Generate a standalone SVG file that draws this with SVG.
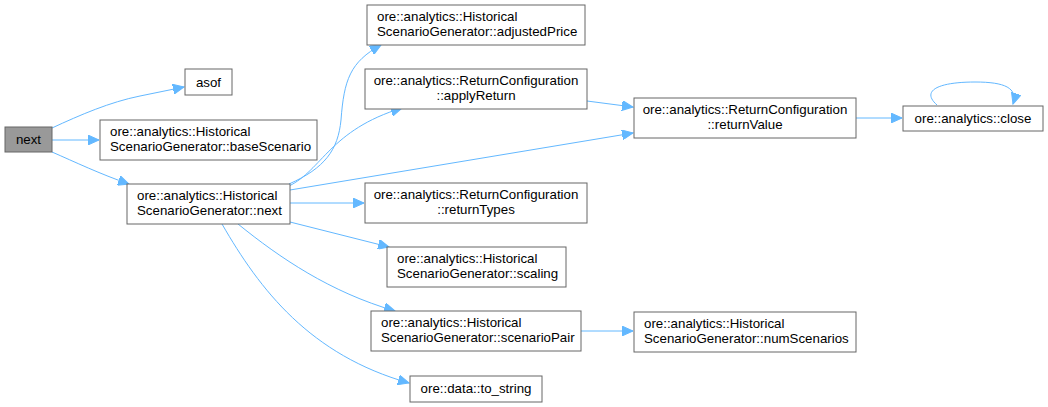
<svg xmlns="http://www.w3.org/2000/svg" width="1048" height="407" viewBox="0 0 1048 407">
<style>
.n rect{fill:#ffffff;stroke:#666666;stroke-width:1}
.n.cur rect{fill:#999999}
text{font-family:"Liberation Sans",Arial,sans-serif;font-size:13.3px;fill:#000000}
.c{text-anchor:middle}
#edges path{fill:none;stroke:#63b8ff;stroke-width:1}
</style>
<defs>
<marker id="ah" markerUnits="userSpaceOnUse" markerWidth="12" markerHeight="10" viewBox="0 0 12 10" refX="11" refY="5" orient="auto">
<path d="M0,0 L11,5 L0,10 Z" fill="#63b8ff" stroke="#63b8ff"/>
</marker>
</defs>
<rect width="1048" height="407" fill="#ffffff"/>
<g id="edges">
<path d="M52,128 C80,115 110,102 140,96 L184,87" marker-end="url(#ah)"/>
<path d="M52,140 L99,140" marker-end="url(#ah)"/>
<path d="M52,152 C75,162 100,174 129,184" marker-end="url(#ah)"/>
<path d="M289,184 C325,168 338,150 341,120 C344,80 350,62 381,45" marker-end="url(#ah)"/>
<path d="M289,186 C322,170 330,130 402,108" marker-end="url(#ah)"/>
<path d="M290,190 L633,133" marker-end="url(#ah)"/>
<path d="M587,101 L633,107" marker-end="url(#ah)"/>
<path d="M290,203 L364,203" marker-end="url(#ah)"/>
<path d="M290,222 L389,247" marker-end="url(#ah)"/>
<path d="M238,224 C280,258 330,292 395,311" marker-end="url(#ah)"/>
<path d="M222,224 C260,290 310,355 409,383" marker-end="url(#ah)"/>
<path d="M581,331 L633,331" marker-end="url(#ah)"/>
<path d="M856,118 L902,118" marker-end="url(#ah)"/>
<path d="M937,105 C920,90 940,82 975,82 C1005,82 1018,88 1013,104" marker-end="url(#ah)"/>
</g>
<g id="node-next" class="n cur"><rect x="5" y="127" width="47" height="25"/><text class="c" x="28.5" y="144">next</text></g>
<g id="node-asof" class="n"><rect x="185" y="69" width="47" height="26"/><text class="c" x="208.5" y="87">asof</text></g>
<g id="node-baseScenario" class="n"><rect x="100" y="120" width="217" height="40"/><text x="110" y="136">ore::analytics::Historical</text><text x="110" y="151">ScenarioGenerator::baseScenario</text></g>
<g id="node-hsgnext" class="n"><rect x="127" y="184" width="163" height="40"/><text x="137" y="200">ore::analytics::Historical</text><text x="137" y="215">ScenarioGenerator::next</text></g>
<g id="node-adjustedPrice" class="n"><rect x="367" y="5" width="218" height="40"/><text x="377" y="21">ore::analytics::Historical</text><text x="377" y="36">ScenarioGenerator::adjustedPrice</text></g>
<g id="node-applyReturn" class="n"><rect x="365" y="69" width="222" height="40"/><text class="c" x="476" y="85">ore::analytics::ReturnConfiguration</text><text class="c" x="476" y="100">::applyReturn</text></g>
<g id="node-returnTypes" class="n"><rect x="365" y="183" width="222" height="40"/><text class="c" x="476" y="199">ore::analytics::ReturnConfiguration</text><text class="c" x="476" y="214">::returnTypes</text></g>
<g id="node-scaling" class="n"><rect x="387" y="247" width="179" height="40"/><text x="397" y="263">ore::analytics::Historical</text><text x="397" y="278">ScenarioGenerator::scaling</text></g>
<g id="node-scenarioPair" class="n"><rect x="371" y="311" width="210" height="40"/><text x="381" y="327">ore::analytics::Historical</text><text x="381" y="342">ScenarioGenerator::scenarioPair</text></g>
<g id="node-to_string" class="n"><rect x="410" y="376" width="132" height="26"/><text class="c" x="476" y="393">ore::data::to_string</text></g>
<g id="node-returnValue" class="n"><rect x="634" y="98" width="222" height="40"/><text class="c" x="745" y="114">ore::analytics::ReturnConfiguration</text><text class="c" x="745" y="129">::returnValue</text></g>
<g id="node-close" class="n"><rect x="903" y="106" width="140" height="25"/><text class="c" x="973" y="123">ore::analytics::close</text></g>
<g id="node-numScenarios" class="n"><rect x="634" y="312" width="222" height="40"/><text x="644" y="328">ore::analytics::Historical</text><text x="644" y="343">ScenarioGenerator::numScenarios</text></g>
</svg>
